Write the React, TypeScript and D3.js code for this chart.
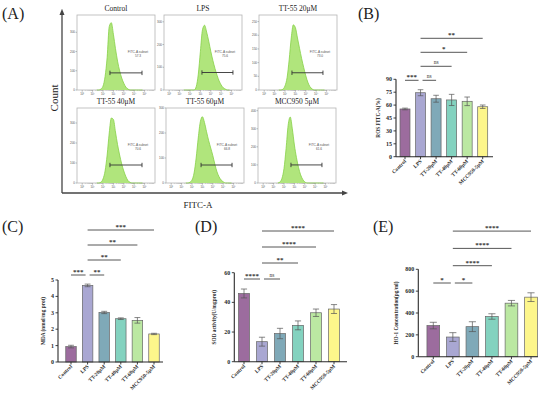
import React from "react";
import * as d3 from "d3";

// ---------- Bar chart data ----------
const groups = ["Control", "LPS", "TT-20μM", "TT-40μM", "TT-60μM", "MCC950-5μM"];
const barColors = ["#9c6c9e", "#a9a7d2", "#7fa9b8", "#83d2bf", "#bbe8a2", "#fdf68b"];

const rosMean = [55.5, 74.4, 67.4, 66.0, 64.4, 58.1];
const rosErr = [1.0, 3.5, 4.0, 6.5, 5.0, 2.0];
const rosTicks = [0, 15, 30, 45, 60, 75, 90];
const rosSig = ["***", "ns", "ns", "*", "**"];

const mdaMean = [0.94, 4.67, 3.02, 2.64, 2.54, 1.71];
const mdaErr = [0.08, 0.08, 0.07, 0.05, 0.17, 0.04];
const mdaTicks = [0, 1, 2, 3, 4, 5];
const mdaSig = ["***", "**", "**", "**", "***"];

const sodMean = [46, 13.5, 19, 24.5, 33, 35.5];
const sodErr = [3, 3, 3.5, 3, 2.5, 3];
const sodTicks = [0, 20, 40, 60];
const sodSig = ["****", "ns", "**", "****", "****"];

const hoMean = [285, 180, 275, 368, 490, 545];
const hoErr = [30, 40, 45, 25, 25, 40];
const hoTicks = [0, 200, 400, 600, 800];
const hoSig = ["*", "*", "****", "****", "****"];

const sigPairs = [[0, 1], [1, 2], [1, 3], [1, 4], [1, 5]];
const sigLevels = [0, 0, 1, 2, 3];

// ---------- Flow cytometry data ----------
const flowTitles = ["Control", "LPS", "TT-55 20μM", "TT-55 40μM", "TT-55 60μM", "MCC950 5μM"];
const flowPct = ["57.3", "75.6", "73.0", "70.6", "66.8", "61.6"];
const flowBins = [1.4, 1.6, 1.8, 2.0, 2.2, 2.4, 2.6, 2.8, 3.0, 3.2, 3.4, 3.6, 3.8, 4.0, 4.2, 4.4, 4.6, 4.8, 5.0, 5.2, 5.4, 5.6, 5.8];
const flowControl = [0, 0, 5, 20, 70, 170, 330, 350, 290, 215, 150, 100, 62, 35, 15, 5, 0, 0, 0, 0, 0, 0, 0];
const flowLPS = [0, 0, 0, 0, 0, 0, 15, 70, 170, 265, 285, 255, 215, 170, 130, 95, 65, 40, 22, 10, 4, 0, 0];
const flowTT20 = [0, 0, 3, 15, 45, 110, 190, 238, 228, 190, 152, 115, 82, 52, 28, 12, 4, 0, 0, 0, 0, 0, 0];
const flowTT40 = [0, 0, 4, 20, 60, 140, 250, 325, 318, 255, 192, 140, 95, 60, 32, 12, 3, 0, 0, 0, 0, 0, 0];
const flowTT60 = [0, 0, 3, 12, 40, 100, 180, 245, 265, 242, 205, 170, 140, 110, 75, 45, 25, 12, 5, 0, 0, 0, 0];
const flowMCC = [0, 5, 25, 80, 190, 320, 365, 300, 210, 140, 85, 45, 20, 6, 0, 0, 0, 0, 0, 0, 0, 0, 0];
const flowCounts = [flowControl, flowLPS, flowTT20, flowTT40, flowTT60, flowMCC];
const flowYMax = [390, 330, 274, 375, 300, 415];
const flowYTicks = [
  [0, 100, 200, 300],
  [0, 100, 200, 300],
  [0, 50, 100, 150, 200, 250],
  [0, 100, 200, 300],
  [0, 100, 200, 300],
  [0, 100, 200, 300, 400],
];
const gateStart = [2.67, 3.15, 2.67, 2.67, 2.87, 2.67];
const gateEnd = [5.75, 6.13, 5.65, 5.75, 5.85, 5.65];
const gateCount = [89, 77, 63, 90, 72, 100];
const decades = [0, 1, 2, 3, 4, 5, 6];
const decadeLabels = ["10⁰", "10¹", "10²", "10³", "10⁴", "10⁵", "10⁶"];

const SERIF = "'Liberation Serif', 'DejaVu Serif', serif";

const flowBoxes = [
  [77, 15], [164, 15], [259, 15],
  [77, 108], [166, 108], [258, 108],
];
const BW = 78, BH = 75;

function FlowBox({ i }: { i: number }) {
  const [bx, by] = flowBoxes[i];
  const x = d3.scaleLinear().domain([-0.5, 7]).range([bx, bx + BW]);
  const y = d3.scaleLinear().domain([0, flowYMax[i]]).range([by + BH, by]);
  const pts = flowBins.map((b, k) => [b, flowCounts[i][k]] as [number, number]);
  const area = d3
    .area<[number, number]>()
    .x((d) => x(d[0]))
    .y0(y(0))
    .y1((d) => y(d[1]))
    .curve(d3.curveMonotoneX);
  const line = d3
    .line<[number, number]>()
    .x((d) => x(d[0]))
    .y((d) => y(d[1]))
    .curve(d3.curveMonotoneX);
  const gy = y(gateCount[i]);
  const gx1 = x(gateStart[i]);
  const gx2 = x(gateEnd[i]);
  const minors: number[] = [];
  decades.forEach((d) => {
    [0.3, 0.48, 0.6, 0.7, 0.78, 0.85, 0.9, 0.95].forEach((m) => {
      if (d + m < 6.9) minors.push(d + m);
    });
  });
  return (
    <g>
      <text x={bx + BW / 2} y={by - 4} textAnchor="middle" fontFamily={SERIF} fontSize={7.5} fill="#222">
        {flowTitles[i]}
      </text>
      <rect x={bx} y={by} width={BW} height={BH} fill="#fff" stroke="#b5b5b5" strokeWidth={0.8} />
      <path d={area(pts) || ""} fill="#b0e57c" />
      <path d={line(pts) || ""} fill="none" stroke="#86d047" strokeWidth={0.8} />
      {flowYTicks[i].map((t) => (
        <g key={t}>
          <line x1={bx - 1.5} x2={bx} y1={y(t)} y2={y(t)} stroke="#666" strokeWidth={0.4} />
          <text x={bx - 2} y={y(t) + 1} textAnchor="end" fontSize={3} fontFamily="Arial, sans-serif" fill="#555">
            {t}
          </text>
        </g>
      ))}
      {decades.map((d, k) => (
        <g key={d}>
          <line x1={x(d)} x2={x(d)} y1={by + BH} y2={by + BH + 1.8} stroke="#666" strokeWidth={0.4} />
          <text x={x(d)} y={by + BH + 5} textAnchor="middle" fontSize={2.8} fontFamily="Arial, sans-serif" fill="#555">
            {decadeLabels[k]}
          </text>
        </g>
      ))}
      {minors.map((m, k) => (
        <line key={k} x1={x(m)} x2={x(m)} y1={by + BH} y2={by + BH + 0.9} stroke="#888" strokeWidth={0.3} />
      ))}
      <line x1={gx1} x2={gx2} y1={gy} y2={gy} stroke="#333" strokeWidth={0.9} />
      <line x1={gx1} x2={gx1} y1={gy - 2.2} y2={gy + 2.2} stroke="#333" strokeWidth={0.9} />
      <line x1={gx2} x2={gx2} y1={gy - 2.2} y2={gy + 2.2} stroke="#333" strokeWidth={0.9} />
      <text x={bx + 61} y={by + BH * 0.5} textAnchor="middle" fontSize={3.2} fontFamily="Arial, sans-serif" fill="#555">
        FITC-A subset
      </text>
      <text x={bx + 61} y={by + BH * 0.5 + 4.6} textAnchor="middle" fontSize={3.2} fontFamily="Arial, sans-serif" fill="#555">
        {flowPct[i]}
      </text>
    </g>
  );
}

type PanelCfg = {
  mean: number[];
  err: number[];
  sig: string[];
  ticks: number[];
  label: string;
  ax: number;
  xEnd: number;
  y0: number;
  yTop: number;
  c0: number;
  c1: number;
  bw: number;
  lx: number;
  sy: number;
  ss: number;
};

function BarPanel({ cfg }: { cfg: PanelCfg }) {
  const yMax = cfg.ticks[cfg.ticks.length - 1];
  const y = d3.scaleLinear().domain([0, yMax]).range([cfg.y0, cfg.yTop]);
  const x = d3.scalePoint<string>().domain(groups).range([cfg.c0, cfg.c1]);
  const cap = cfg.bw * 0.28;
  const ink = "#2b2b2b";
  return (
    <g fontFamily={SERIF}>
      {groups.map((g, i) => {
        const cx = x(g) as number;
        return (
          <g key={g}>
            <rect
              x={cx - cfg.bw / 2}
              y={y(cfg.mean[i])}
              width={cfg.bw}
              height={cfg.y0 - y(cfg.mean[i])}
              fill={barColors[i]}
              stroke="#666"
              strokeWidth={0.7}
            />
            <line x1={cx} x2={cx} y1={y(cfg.mean[i] - cfg.err[i])} y2={y(cfg.mean[i] + cfg.err[i])} stroke="#555" strokeWidth={0.7} />
            <line x1={cx - cap} x2={cx + cap} y1={y(cfg.mean[i] + cfg.err[i])} y2={y(cfg.mean[i] + cfg.err[i])} stroke="#555" strokeWidth={0.7} />
            <line x1={cx - cap} x2={cx + cap} y1={y(cfg.mean[i] - cfg.err[i])} y2={y(cfg.mean[i] - cfg.err[i])} stroke="#555" strokeWidth={0.7} />
            <line x1={cx} x2={cx} y1={cfg.y0} y2={cfg.y0 + 2.5} stroke={ink} strokeWidth={0.9} />
            <text
              transform={`translate(${cx + 1.5},${cfg.y0 + 5}) rotate(-45)`}
              textAnchor="end"
              fontSize={5.3}
              fontWeight="bold"
              fill={ink}
            >
              {g}
            </text>
          </g>
        );
      })}
      <line x1={cfg.ax} x2={cfg.xEnd} y1={cfg.y0} y2={cfg.y0} stroke={ink} strokeWidth={1.1} />
      <line x1={cfg.ax} x2={cfg.ax} y1={cfg.y0} y2={cfg.yTop} stroke={ink} strokeWidth={1.1} />
      {cfg.ticks.map((t) => (
        <g key={t}>
          <line x1={cfg.ax - 2.5} x2={cfg.ax} y1={y(t)} y2={y(t)} stroke={ink} strokeWidth={0.9} />
          <text x={cfg.ax - 4} y={y(t) + 2} textAnchor="end" fontSize={6} fontWeight="bold" fill={ink}>
            {t}
          </text>
        </g>
      ))}
      <text
        transform={`translate(${cfg.lx},${(cfg.y0 + cfg.yTop) / 2}) rotate(-90)`}
        textAnchor="middle"
        fontSize={5.3}
        fontWeight="bold"
        fill={ink}
      >
        {cfg.label}
      </text>
      {sigPairs.map(([a, b], k) => {
        const lvl = sigLevels[k];
        const ly = cfg.sy - lvl * cfg.ss;
        const xa = (x(groups[a]) as number) + (a === 1 && lvl === 0 ? 2 : 0);
        const xb = (x(groups[b]) as number) - (b === 1 ? 2 : 0);
        return (
          <g key={k}>
            <line x1={xa} x2={xb} y1={ly} y2={ly} stroke="#444" strokeWidth={0.9} />
            <text
              x={(xa + xb) / 2}
              y={cfg.sig[k] === "ns" ? ly - 2.2 : ly - 1.2}
              textAnchor="middle"
              fontSize={cfg.sig[k] === "ns" ? 5.5 : 7}
              fontWeight={cfg.sig[k] === "ns" ? "normal" : "bold"}
              fill="#333"
            >
              {cfg.sig[k]}
            </text>
          </g>
        );
      })}
    </g>
  );
}

const panels: PanelCfg[] = [
  { mean: rosMean, err: rosErr, sig: rosSig, ticks: rosTicks, label: "ROS FITC-A(%)", ax: 396, xEnd: 493, y0: 156.7, yTop: 79.3, c0: 405, c1: 482.7, bw: 10, lx: 380, sy: 80.3, ss: 14 },
  { mean: mdaMean, err: mdaErr, sig: mdaSig, ticks: mdaTicks, label: "MDA (nmol/mg prot)", ax: 58, xEnd: 163, y0: 362, yTop: 280, c0: 71, c1: 154, bw: 10.5, lx: 45, sy: 275, ss: 15 },
  { mean: sodMean, err: sodErr, sig: sodSig, ticks: sodTicks, label: "SOD activity(U/mgprot)", ax: 234.3, xEnd: 347, y0: 361.7, yTop: 272.7, c0: 244, c1: 334, bw: 11, lx: 216, sy: 279, ss: 16 },
  { mean: hoMean, err: hoErr, sig: hoSig, ticks: hoTicks, label: "HO-1 Concentration(pg/ml)", ax: 418.3, xEnd: 538, y0: 356.7, yTop: 269.3, c0: 433.3, c1: 531, bw: 12.7, lx: 398, sy: 283, ss: 17.3 },
];

export default function App() {
  return (
    <svg width={550} height={398} viewBox="0 0 550 398" style={{ position: "absolute", left: 0, top: 0, background: "#fff" }}>
      <defs>
        <marker id="arr" viewBox="0 0 10 10" refX="5" refY="5" markerWidth="5" markerHeight="5" orient="auto">
          <path d="M0,1 L10,5 L0,9 z" fill="#444" />
        </marker>
      </defs>
      <rect width={550} height={398} fill="#fff" />
      {/* Panel labels */}
      <text x={2} y={19} fontFamily={SERIF} fontSize={16} fill="#222">(A)</text>
      <text x={358} y={19} fontFamily={SERIF} fontSize={16} fill="#222">(B)</text>
      <text x={2} y={232} fontFamily={SERIF} fontSize={16} fill="#222">(C)</text>
      <text x={195} y={232} fontFamily={SERIF} fontSize={16} fill="#222">(D)</text>
      <text x={373} y={232} fontFamily={SERIF} fontSize={16} fill="#222">(E)</text>

      {/* Panel A */}
      <line x1={62} y1={193} x2={62} y2={12} stroke="#444" strokeWidth={1.3} markerEnd="url(#arr)" />
      <line x1={62} y1={193} x2={345} y2={193} stroke="#444" strokeWidth={1.3} markerEnd="url(#arr)" />
      <text transform="translate(58,98) rotate(-90)" textAnchor="middle" fontFamily={SERIF} fontSize={11} fill="#222">Count</text>
      <text x={198} y={208} textAnchor="middle" fontFamily={SERIF} fontSize={9} fill="#222">FITC-A</text>
      {flowTitles.map((_, i) => (
        <FlowBox key={i} i={i} />
      ))}

      {panels.map((p, i) => (
        <BarPanel key={i} cfg={p} />
      ))}
    </svg>
  );
}
